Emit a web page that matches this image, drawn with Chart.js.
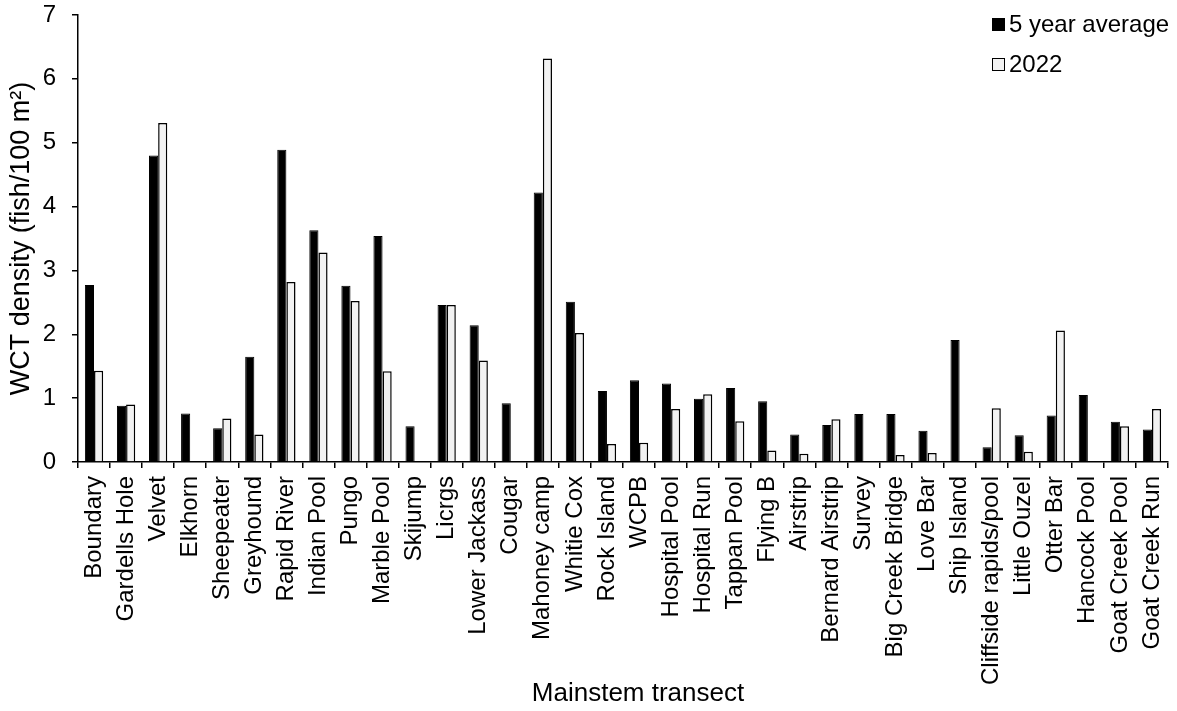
<!DOCTYPE html>
<html>
<head>
<meta charset="utf-8">
<title>WCT density by mainstem transect</title>
<script src="https://cdn.jsdelivr.net/npm/chart.js@4/dist/chart.umd.min.js"></script>
<style>
    body { margin: 0; background: #fff; }
    #wrap { position: relative; width: 1177px; height: 711px; font-family: "Liberation Sans", Arial, sans-serif; color: #000; }
    #legend { position: absolute; left: 992px; top: 10px; font-size: 24px; }
    .leg-item { display: flex; align-items: center; height: 28px; margin-bottom: 12px; }
    .leg-box { width: 13px; height: 13px; box-sizing: border-box; border: 1.5px solid #000; margin-right: 4px; }
    #x-title { position: absolute; left: 438px; width: 400px; top: 677px; text-align: center; font-size: 26px; line-height: 30px; }
</style>
</head>
<body>
<div id="wrap">
    <canvas id="wct-bars" width="1177" height="711"></canvas>
    <div id="legend"></div>
    <div id="x-title">Mainstem transect</div>
</div>
<script>
const transects = ['Boundary', 'Gardells Hole', 'Velvet', 'Elkhorn', 'Sheepeater', 'Greyhound',
    'Rapid River', 'Indian Pool', 'Pungo', 'Marble Pool', 'Skijump', 'Licrgs', 'Lower Jackass',
    'Cougar', 'Mahoney camp', 'Whitie Cox', 'Rock Island', 'WCPB', 'Hospital Pool', 'Hospital Run',
    'Tappan Pool', 'Flying B', 'Airstrip', 'Bernard Airstrip', 'Survey', 'Big Creek Bridge',
    'Love Bar', 'Ship Island', 'Cliffside rapids/pool', 'Little Ouzel', 'Otter Bar',
    'Hancock Pool', 'Goat Creek Pool', 'Goat Creek Run']

const avg5yr = [2.77, 0.88, 4.80, 0.76, 0.53, 1.65, 4.89, 3.63, 2.76, 3.54, 0.56, 2.46, 2.14,
    0.92, 4.22, 2.51, 1.11, 1.28, 1.23, 0.99, 1.16, 0.95, 0.43, 0.58, 0.75, 0.75,
    0.49, 1.91, 0.23, 0.42, 0.73, 1.05, 0.63, 0.51]

// null = transect not sampled in 2022
const dens2022 = [1.43, 0.90, 5.31, null, 0.68, 0.43, 2.82, 3.28, 2.52, 1.42, null, 2.46, 1.59,
    null, 6.32, 2.02, 0.28, 0.30, 0.83, 1.06, 0.64, 0.18, 0.13, 0.67, null, 0.11,
    0.14, null, 0.84, 0.16, 2.06, null, 0.56, 0.83]

const yTicks = [0, 1, 2, 3, 4, 5, 6, 7]

const fontFam = '"Liberation Sans", Arial, sans-serif'

const wctBars = new Chart(
    document.getElementById('wct-bars').getContext('2d'),
    {
        type: 'bar',
        data: {
            labels: transects,
            datasets: [
                {label: '5 year average', data: avg5yr, backgroundColor: '#000', borderColor: '#000', borderWidth: 1},
                {label: '2022', data: dens2022, backgroundColor: '#f2f2f2', borderColor: '#000', borderWidth: 1.5}
            ]
        },
        options: {
            responsive: false,
            animation: false,
            layout: {padding: {top: 15, right: 9, left: 0, bottom: 0}},
            datasets: {bar: {categoryPercentage: 0.57, barPercentage: 1}},
            plugins: {legend: {display: false}, tooltip: {enabled: false}},
            scales: {
                y: {
                    min: 0,
                    max: 7,
                    afterBuildTicks: (s) => { s.ticks = yTicks.map(v => ({value: v})) },
                    afterFit: (s) => {
                        s.width = 78
                        s.paddingTop = 0
                        s.paddingBottom = 0
                    },
                    border: {color: '#000', width: 1.5},
                    grid: {drawOnChartArea: false, tickLength: 6, color: '#000', lineWidth: 1.5},
                    ticks: {color: '#000', padding: 16, font: {family: fontFam, size: 24}},
                    title: {
                        display: true,
                        text: 'WCT density (fish/100 m²)',
                        color: '#000',
                        font: {family: fontFam, size: 27},
                        padding: {top: 5, bottom: 0}
                    }
                },
                x: {
                    afterFit: (s) => {
                        s.height = 249
                        s.paddingLeft = 0
                        s.paddingRight = 0
                    },
                    border: {color: '#000', width: 1.5},
                    grid: {drawOnChartArea: false, tickLength: 6, color: '#000', lineWidth: 1.5},
                    ticks: {
                        color: '#000', padding: 8, autoSkip: false,
                        minRotation: 90, maxRotation: 90,
                        font: {family: fontFam, size: 24}
                    }
                }
            }
        }
    }
)

// legend boxes built from the datasets
const leg = document.getElementById('legend')
for (let ds of wctBars.data.datasets) {
    leg.innerHTML += `
        <div class="leg-item">
            <div class="leg-box" style="background:${ds.backgroundColor}"></div>
            <span>${ds.label}</span>
        </div>`
}
</script>
</body>
</html>
